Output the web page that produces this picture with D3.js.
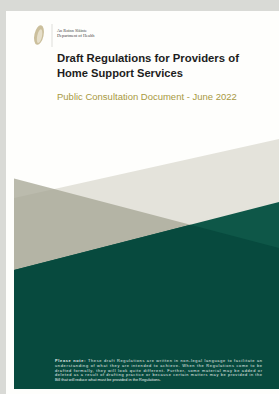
<!DOCTYPE html>
<html><head><meta charset="utf-8">
<script src="https://cdn.jsdelivr.net/npm/d3@7"></script>
<style>html,body{margin:0;padding:0;background:#d9dad6;overflow:hidden}</style>
</head><body>
<script>
// ---- content ----
const logoLines = ["An Roinn Sláinte", "Department of Health"];
const titleLines = ["Draft Regulations for Providers of", "Home Support Services"];
const subtitle = "Public Consultation Document - June 2022";
const noteLines = [
  "These draft Regulations are written in non-legal language to facilitate an",
  "understanding of what they are intended to achieve. When the Regulations come to be",
  "drafted formally, they will look quite different. Further, some material may be added or",
  "deleted as a result of drafting practice or because certain matters may be provided in the",
  "Bill that will reduce what must be provided in the Regulations."
];
// decorative band polygons, in art-area fraction units (x: 0..1 across, y: 0..1 down)
const bandBeige = [[0,0.236],[1,0],[1,1],[0,1]];
const bandGray  = [[0,0.158],[1,0.436],[1,1],[0,1]];
const bandGreen = [[0,0.524],[1,0.252],[1,1],[0,1]];

const W = 279, H = 394;
const svg = d3.select("body").append("svg").attr("width", W).attr("height", H);
svg.append("rect").attr("width", W).attr("height", H).attr("fill", "#d9dad6");
svg.append("rect").attr("x", 6).attr("y", 11).attr("width", W - 6).attr("height", H - 11).attr("fill", "#fefefc");

// art area scales
const x = d3.scaleLinear().domain([0, 1]).range([14, 279]);
const y = d3.scaleLinear().domain([0, 1]).range([139, 389]);
const line = d3.line().x(d => x(d[0])).y(d => y(d[1]));

const defs = svg.append("defs");
defs.append("clipPath").attr("id", "cg").append("path").attr("d", line(bandGreen) + "Z");

svg.append("path").attr("d", line(bandBeige) + "Z").attr("fill", "#e4e3db");
svg.append("path").attr("d", line(bandGray) + "Z").attr("fill", "#a3a392").attr("opacity", 0.74);
svg.append("path").attr("d", line(bandGreen) + "Z").attr("fill", "#0e5748");
svg.append("path").attr("d", line(bandGray) + "Z").attr("clip-path", "url(#cg)").attr("fill", "#074a3e");

// logo
const harp = svg.append("g").attr("transform", "translate(39,35) rotate(12)");
harp.append("ellipse").attr("rx", 4.6).attr("ry", 10).attr("fill", "#cbbf9c");
harp.append("ellipse").attr("cx", 0.8).attr("cy", 1).attr("rx", 2.4).attr("ry", 7).attr("fill", "#e6dfca");
svg.append("line").attr("x1", 52).attr("x2", 52).attr("y1", 24).attr("y2", 47).attr("stroke", "#c9c9c4").attr("stroke-width", 0.6);
svg.selectAll("text.logo").data(logoLines).join("text").attr("class", "logo")
  .attr("x", 57).attr("y", (d, i) => 32 + i * 5.3)
  .attr("font-family", "Liberation Serif").attr("font-size", 4.3).attr("fill", "#444")
  .text(d => d);

function fit(sel, width) {
  sel.each(function () {
    const n = this; const len = n.getComputedTextLength();
    const fs = parseFloat(n.getAttribute("font-size"));
    n.setAttribute("font-size", fs * width / len);
  });
}

const tw = [182, 126];
svg.selectAll("text.title").data(titleLines).join("text").attr("class", "title")
  .attr("x", 57).attr("y", (d, i) => 62 + i * 15)
  .attr("font-family", "Liberation Sans, Arial").attr("font-weight", "bold")
  .attr("font-size", 11).attr("fill", "#1d1d1d").text(d => d)
  .each(function (d, i) { fit(d3.select(this), tw[i]); });

svg.append("text").attr("x", 57).attr("y", 100)
  .attr("font-family", "Liberation Sans, Arial").attr("font-size", 8).attr("fill", "#a8993f")
  .text(subtitle).call(s => fit(s, 180));

// note
const note = svg.selectAll("text.note").data(noteLines).join("text").attr("class", "note")
  .attr("x", 55).attr("y", (d, i) => 362 + i * 4.8)
  .attr("font-family", "Liberation Sans, Arial").attr("font-size", 3.9).attr("fill", "#e8efec");
note.each(function (d, i) {
  const t = d3.select(this);
  if (i === 0) {
    t.append("tspan").attr("font-weight", "bold").text("Please note: ");
    t.append("tspan").text(d);
  } else t.text(d);
  if (i < 4) t.attr("textLength", 207).attr("lengthAdjust", "spacing");
});
</script>
</body></html>
